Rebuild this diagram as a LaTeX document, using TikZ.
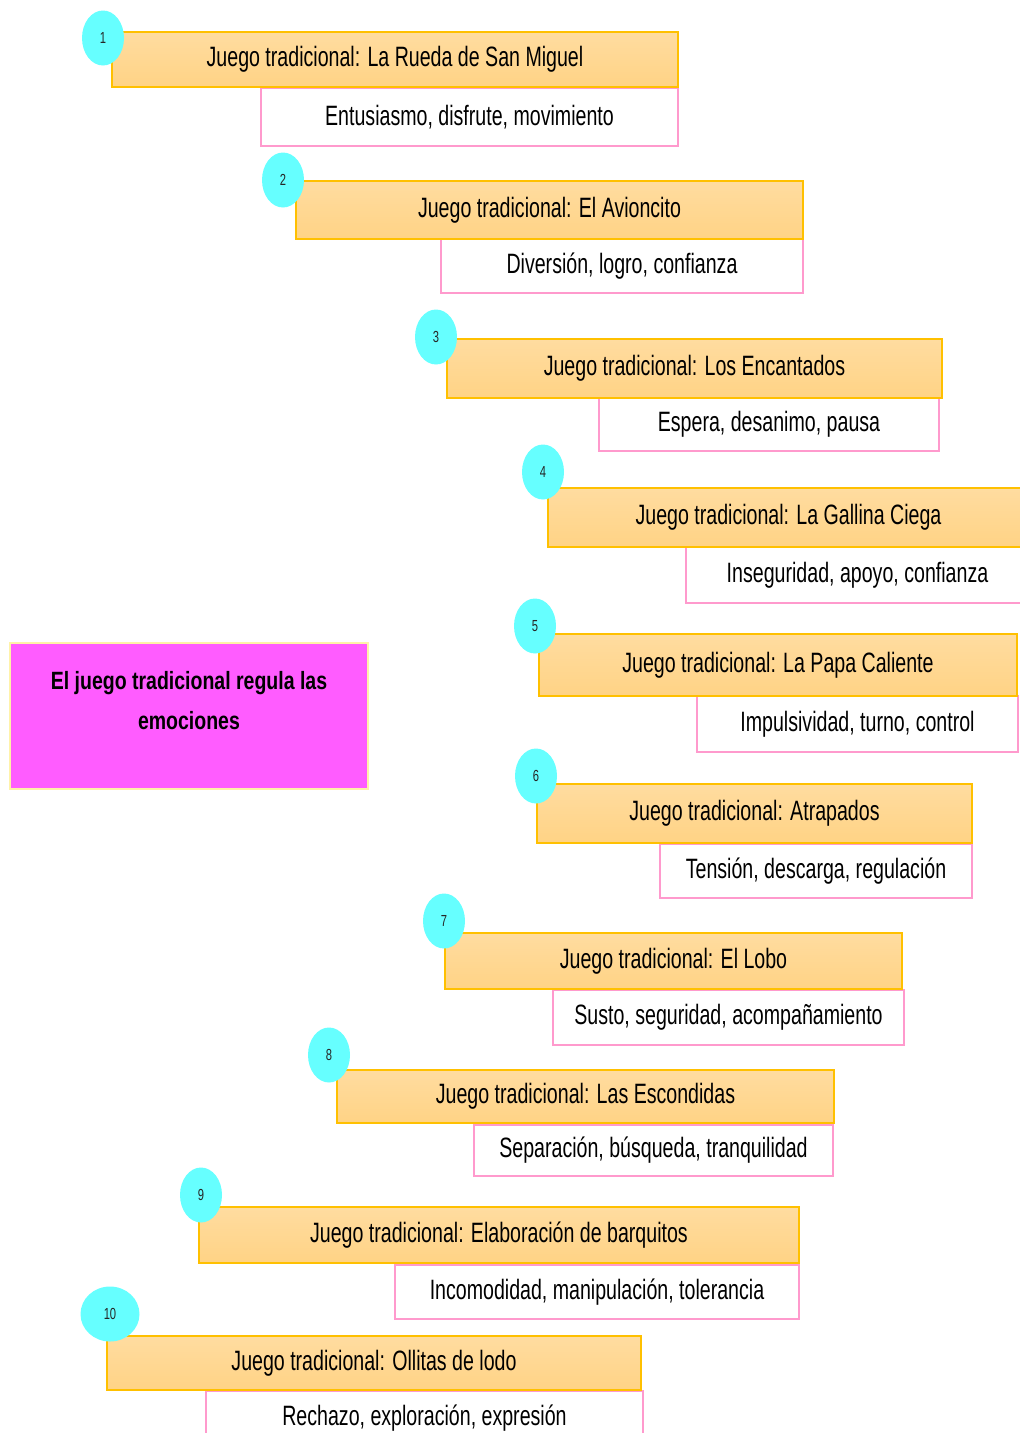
\documentclass[tikz,border=0pt]{standalone}
\usepackage{fontspec}
\newfontfamily\boxfont[FakeStretch=0.7]{Liberation Sans}
\newfontfamily\temafont[FakeStretch=0.78]{Liberation Sans}
\usetikzlibrary{shapes.geometric}
\definecolor{gameline}{HTML}{FFC000}
\definecolor{gametop}{HTML}{FFDCA0}
\definecolor{gamebot}{HTML}{FFD385}
\definecolor{emoline}{HTML}{FF9ACD}
\definecolor{numfill}{HTML}{66FFFF}
\definecolor{temafill}{HTML}{FF5CFF}
\definecolor{temaline}{HTML}{FFF2A8}
\begin{document}
\begin{tikzpicture}[x=1pt,y=-1pt,
    game/.style={draw=gameline,line width=2pt,top color=gametop,bottom color=gamebot,inner sep=0pt,font=\fontsize{28}{32}\boxfont},
    emo/.style={draw=emoline,line width=2pt,fill=white,inner sep=0pt,font=\fontsize{28}{32}\boxfont},
    num/.style={ellipse,fill=numfill,inner sep=0pt,minimum width=42pt,minimum height=55pt,font=\fontsize{16}{16}\boxfont,text=black!85}]
        \fill[white](0,0)rectangle(1020,1433);
        \useasboundingbox(0,0)rectangle(1020,1433);

        % tema central
        \node[draw=temaline,line width=1.5pt,fill=temafill,minimum width=358pt,minimum height=146pt](tema)at(189,716){};
        \node[font=\fontsize{25}{40}\temafont\bfseries,align=center,yshift=15pt](tematxt)at(tema.center){El juego tradicional regula las\\emociones};

        % emociones
        \node[emo,minimum width=417pt,minimum height=58pt](e1)at(469.5,117){Entusiasmo, disfrute, movimiento};
        \node[emo,minimum width=362pt,minimum height=54pt](e2)at(622,266){Diversión, logro, confianza};
        \node[emo,minimum width=340pt,minimum height=53pt](e3)at(769,424.5){Espera, desanimo, pausa};
        \node[emo,minimum width=343pt,minimum height=56pt](e4)at(857.5,575){Inseguridad, apoyo, confianza};
        \node[emo,minimum width=321pt,minimum height=56pt](e5)at(857.5,724){Impulsividad, turno, control};
        \node[emo,minimum width=312pt,minimum height=54pt](e6)at(816,871){Tensión, descarga, regulación};
        \node[emo,minimum width=351pt,minimum height=55pt](e7)at(728.5,1017.5){Susto, seguridad, acompañamiento};
        \node[emo,minimum width=359pt,minimum height=51pt](e8)at(653.5,1150.5){Separación, búsqueda, tranquilidad};
        \node[emo,minimum width=404pt,minimum height=54pt](e9)at(597,1292){Incomodidad, manipulación, tolerancia};
        \node[emo,minimum width=437pt,minimum height=55pt](e10)at(424.5,1418.5){Rechazo, exploración, expresión};

        % juegos
        \node[game,minimum width=566pt,minimum height=55pt](g1)at(395,59.5){Juego tradicional: La Rueda de San Miguel};
        \node[game,minimum width=507pt,minimum height=58pt](g2)at(549.5,210){Juego tradicional: El Avioncito};
        \node[game,minimum width=495pt,minimum height=59pt](g3)at(694.5,368.5){Juego tradicional: Los Encantados};
        \node[game,minimum width=481pt,minimum height=59pt](g4)at(788.5,517.5){Juego tradicional: La Gallina Ciega};
        \node[game,minimum width=478pt,minimum height=62pt](g5)at(778,665){Juego tradicional: La Papa Caliente};
        \node[game,minimum width=435pt,minimum height=59pt](g6)at(754.5,813){Juego tradicional: Atrapados};
        \node[game,minimum width=457pt,minimum height=56pt](g7)at(673.5,961){Juego tradicional: El Lobo};
        \node[game,minimum width=497pt,minimum height=53pt](g8)at(585.5,1096.5){Juego tradicional: Las Escondidas};
        \node[game,minimum width=600pt,minimum height=56pt](g9)at(499,1235){Juego tradicional: Elaboración de barquitos};
        \node[game,minimum width=534pt,minimum height=54pt](g10)at(374,1363){Juego tradicional: Ollitas de lodo};

        % numeros
        \node[num](n1)at(103,38){1};
        \node[num](n2)at(283,180){2};
        \node[num](n3)at(436,337){3};
        \node[num](n4)at(543,472){4};
        \node[num](n5)at(535,626){5};
        \node[num](n6)at(536,776){6};
        \node[num](n7)at(444,921){7};
        \node[num](n8)at(329,1055){8};
        \node[num](n9)at(201,1195){9};
        \node[num,minimum width=59pt](n10)at(110,1314){10};
    \end{tikzpicture}
\end{document}
